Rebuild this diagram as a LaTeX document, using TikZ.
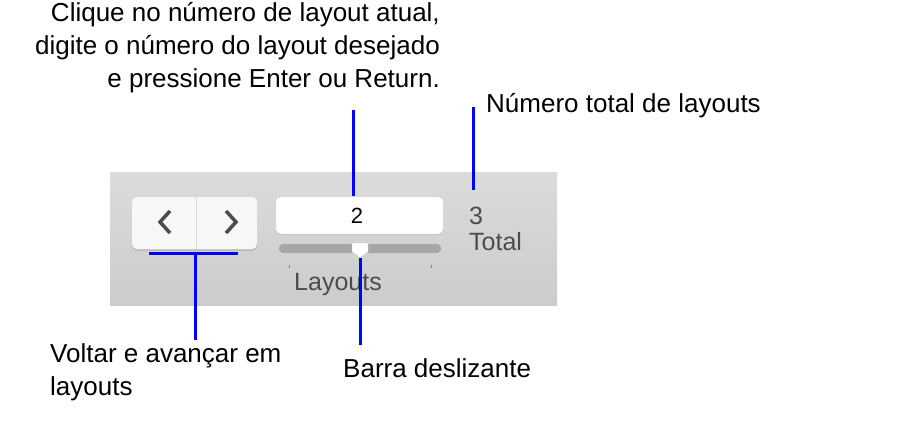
\documentclass[tikz,border=0pt]{standalone}
\usepackage{fontspec}
\setmainfont{Liberation Sans}
\begin{document}
\begin{tikzpicture}[x=1pt,y=-1pt,
  lbl/.style={font=\fontsize{26}{33}\selectfont, inner sep=0pt},
  ui/.style={font=\fontsize{25}{26}\selectfont, text=black!70, inner sep=0pt},
  callout/.style={draw=blue, line width=3pt}]
\useasboundingbox (0,0) rectangle (920,420);
% toolbar
\shade[top color=black!14, bottom color=black!20] (110,172) rectangle (557,305);
% buttons
\fill[black!25,rounded corners=5pt] (132,198) rectangle (257,251);
\fill[white!97!black,rounded corners=5pt] (132,197) rectangle (257,249);
\draw[black!15] (196,197) -- (196,249);
\draw[black!70,line width=3.5pt] (170,211) -- (160,222) -- (170,233);
\draw[black!70,line width=3.5pt] (226,211) -- (236,222) -- (226,233);
% textbox
\fill[black!25,rounded corners=5pt] (276,198) rectangle (443,235);
\fill[white,rounded corners=5pt] (276,197) rectangle (443,234);
\node[ui,text=black,font=\fontsize{22}{24}\selectfont] (num) at (357,216) {2};
% slider
\fill[black!35,rounded corners=4pt] (279,244) rectangle (441,253);
\fill[white,draw=black!25] (352,243) -- (368,243) -- (368,252) -- (360,258) -- (352,252) -- cycle;
\fill[black!50] (289,265) rectangle (290,268);
\fill[black!50] (431,265) rectangle (432,268);
\node[ui] (lay) at (338,284) {Layouts};
\node[ui,anchor=west] (three) at (469,216) {3};
\node[ui,anchor=west] (tot) at (469,242) {Total};
% callouts
\coordinate (c1a) at (353,110); \coordinate (c1b) at (353,196);
\draw[callout] (c1a) -- (c1b);
\coordinate (c2a) at (473,107); \coordinate (c2b) at (473,190);
\draw[callout] (c2a) -- (c2b);
\coordinate (b1) at (149,253); \coordinate (b2) at (238,253);
\coordinate (b3) at (195,253); \coordinate (b4) at (195,340);
\draw[callout] (b1) -- (b2); \draw[callout] (b3) -- (b4);
\coordinate (s1) at (360,258); \coordinate (s2) at (360,345);
\draw[callout] (s1) -- (s2);
% labels
\node[lbl,anchor=north east,align=right] (t1) at (440,2) {Clique no número de layout atual,\\digite o número do layout desejado\\e pressione Enter ou Return.};
\node[lbl,anchor=west] (t2) at (486,106) {Número total de layouts};
\node[lbl,anchor=north west,align=left] (t3) at (50,343) {Voltar e avançar em\\layouts};
\node[lbl,anchor=west] (t4) at (343,368) {Barra deslizante};
\end{tikzpicture}
\end{document}
